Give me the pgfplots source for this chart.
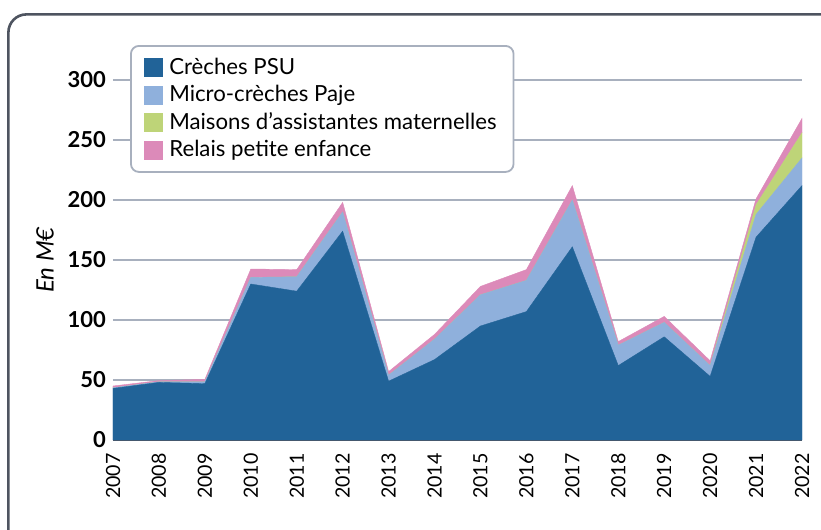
\documentclass[border=0pt]{standalone}
\usepackage{pgfplots}
\usepackage{pgfplotstable}
\pgfplotsset{compat=1.18}
\usepackage{fontspec}
\setmainfont{Lato}
\definecolor{psu}{RGB}{33,99,152}
\definecolor{micro}{RGB}{143,176,220}
\definecolor{mam}{RGB}{190,212,120}
\definecolor{rpe}{RGB}{220,138,185}
\definecolor{gridc}{RGB}{168,176,190}
\definecolor{framec}{RGB}{78,84,96}
\definecolor{axisc}{RGB}{80,86,98}
\pgfplotstableread{
x psu micro mam rpe
0 43 0.5 0 1.5
1 48 0.5 0 1
2 47 1.5 0 2
3 130 5.5 0 7
4 124 12 0 6
5 174 16 0 8
6 49 5 0 3
7 67 17 0 4
8 95 26 0 7
9 107 26 0 9
10 161 39 0 12
11 62 17 0 3
12 86 12 0 5
13 53 9 0 4
14 169 19 8 5
15 212 23 21 12
}\data
\begin{document}
\begin{tikzpicture}
\useasboundingbox (0,0) rectangle (410.5pt,-265pt);
\begin{scope}
\clip (0,0) rectangle (410.5pt,-265pt);
\draw[framec, line width=1.3pt, rounded corners=9pt] (4.2pt,-7.2pt) rectangle (425pt,-280pt);
\end{scope}
\begin{axis}[
  at={(56.5pt,-220pt)}, anchor=south west,
  scale only axis, width=344.5pt, height=180pt,
  xmin=0, xmax=15, ymin=0, ymax=300,
  enlarge x limits=false,
  xtick={0,...,15},
  xticklabels={2007,2008,2009,2010,2011,2012,2013,2014,2015,2016,2017,2018,2019,2020,2021,2022},
  x tick label style={rotate=90, anchor=east, font=\fontsize{9.8}{11}\selectfont},
  xticklabel shift={3.2pt},
  ytick={0,50,...,300},
  y tick label style={font=\bfseries\fontsize{11}{12}\selectfont},
  /pgf/number format/assume math mode=true,
  major tick length=0pt,
  ymajorgrids, grid style={gridc, line width=1pt},
  axis line style={draw=none},
  ylabel={\itshape En M€},
  ylabel style={font=\fontsize{12}{14}\selectfont},
  stack plots=y,
  legend style={at={(0.0247,1.0972)}, anchor=north west, draw=gridc, line width=0.9pt,
    rounded corners=4pt, fill=white, inner xsep=6.5pt, inner ysep=4pt,
    font=\fontsize{11.1}{13}\selectfont, row sep=0pt, column sep=1.5pt},
  legend cell align=left,
  legend image code/.code={\fill[#1, sharp corners] (0pt,-4.5pt) rectangle (9pt,4.5pt);},
]
\addplot[fill=psu, draw=psu, line width=0.2pt] table[x=x,y=psu]{\data} \closedcycle;
\addplot[fill=micro, draw=micro, line width=0.2pt] table[x=x,y=micro]{\data} \closedcycle;
\addplot[fill=mam, draw=mam, line width=0.2pt] table[x=x,y=mam]{\data} \closedcycle;
\addplot[fill=rpe, draw=rpe, line width=0.2pt] table[x=x,y=rpe]{\data} \closedcycle;
\legend{Crèches PSU, Micro-crèches Paje, Maisons d’assistantes maternelles, Relais petite enfance}
\draw[axisc, line width=1pt] (axis cs:0,0) -- (axis cs:15,0);
\end{axis}
\end{tikzpicture}
\end{document}
